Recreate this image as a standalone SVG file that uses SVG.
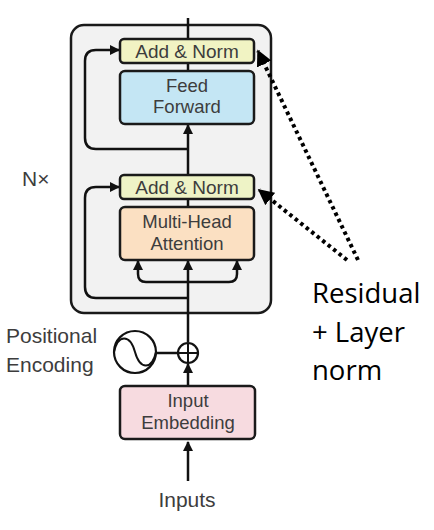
<svg xmlns="http://www.w3.org/2000/svg" width="434" height="530" viewBox="0 0 434 530">
<defs>
<marker id="ah" viewBox="0 0 10 10" refX="9" refY="5" markerWidth="4" markerHeight="4" orient="auto-start-reverse" markerUnits="strokeWidth"><path d="M0,0 L10,5 L0,10 Z" fill="#111"/></marker>
<marker id="ahd" viewBox="0 0 10 10" refX="9" refY="5" markerWidth="4" markerHeight="4" orient="auto" markerUnits="strokeWidth"><path d="M0,0 L10,5 L0,10 Z" fill="#000"/></marker>
<style>
.box{stroke:#1a1a1a;stroke-width:2.5}
.t{font-family:"Liberation Sans",Arial,sans-serif;font-size:18.5px;fill:#3d3d3d;text-anchor:middle}
.tl{font-family:"Liberation Sans",Arial,sans-serif;font-size:21px;fill:#3d3d3d}
.ln{fill:none;stroke:#111;stroke-width:2.5}
.dot{fill:none;stroke:#000;stroke-width:4;stroke-dasharray:3.5 3.5}
.big{font-family:"Open Sans","Liberation Sans",sans-serif;font-size:27.5px;fill:#000}
</style>
</defs>
<rect width="434" height="530" fill="#fff"/>
<g id="encoder-block">
<rect x="71" y="25" width="200" height="288" rx="13" fill="#f2f2f2" class="box"/>
</g>
<g id="connectors">
<line x1="188" y1="18" x2="188" y2="39" class="ln"/>
<line x1="188" y1="63" x2="188" y2="71" class="ln"/>
<line x1="188" y1="175" x2="188" y2="125" class="ln" marker-end="url(#ah)"/>
<path d="M188,149 H96 Q85,149 85,138 V61 Q85,50 96,50 H119" class="ln" marker-end="url(#ah)"/>
<line x1="188" y1="199" x2="188" y2="207" class="ln"/>
<line x1="188" y1="342" x2="188" y2="261" class="ln" marker-end="url(#ah)"/>
<path d="M188,298 H96 Q85,298 85,287 V198 Q85,187 96,187 H119" class="ln" marker-end="url(#ah)"/>
<path d="M138,261 V274 Q138,282 146,282 H229 Q237,282 237,274 V261" class="ln" marker-start="url(#ah)" marker-end="url(#ah)"/>
<line x1="156" y1="353" x2="178" y2="353" class="ln"/>
<line x1="188" y1="386" x2="188" y2="364" class="ln" marker-end="url(#ah)"/>
<line x1="188" y1="481" x2="188" y2="442" class="ln" marker-end="url(#ah)"/>
<line x1="358" y1="260" x2="258" y2="51" class="dot" marker-end="url(#ahd)"/>
<line x1="347" y1="260" x2="259" y2="190" class="dot" marker-end="url(#ahd)"/>
</g>
<g id="add-norm-top">
<rect x="120" y="39" width="134" height="24" rx="4" fill="#f1f3c3" class="box"/>
<text x="187" y="58" class="t" style="font-size:19px">Add &amp; Norm</text>
</g>
<g id="feed-forward">
<rect x="120" y="71" width="134" height="53" rx="5" fill="#c4e6f4" class="box"/>
<text x="187" y="92" class="t">Feed</text>
<text x="187" y="113" class="t">Forward</text>
</g>
<g id="add-norm-bottom">
<rect x="120" y="175" width="134" height="24" rx="4" fill="#eef3c6" class="box"/>
<text x="187" y="194" class="t" style="font-size:19px">Add &amp; Norm</text>
</g>
<g id="multi-head-attention">
<rect x="120" y="207" width="134" height="53" rx="5" fill="#fbe0c2" class="box"/>
<text x="187" y="228" class="t">Multi-Head</text>
<text x="187" y="250" class="t">Attention</text>
</g>
<g id="positional-encoding">
<circle cx="135" cy="352" r="21" fill="#fff" stroke="#111" stroke-width="2.2"/>
<path d="M114,352 C118,334 130,334 135,352 C140,370 152,370 156,352" fill="none" stroke="#111" stroke-width="2"/>
<text x="6" y="343" class="tl">Positional</text>
<text x="6" y="372" class="tl">Encoding</text>
</g>
<g id="add-circle">
<circle cx="188" cy="353" r="10" fill="#fff" stroke="#111" stroke-width="2.2"/>
<path d="M178,353 H198 M188,343 V363" stroke="#111" stroke-width="2" fill="none"/>
</g>
<g id="input-embedding">
<rect x="120" y="386" width="135" height="53" rx="5" fill="#f7dbe0" class="box"/>
<text x="188" y="407" class="t">Input</text>
<text x="188" y="429" class="t">Embedding</text>
</g>
<g id="labels">
<text x="187" y="507" class="tl" style="text-anchor:middle">Inputs</text>
<text x="22" y="186" class="tl">N×</text>
<text x="312" y="303" class="big">Residual</text>
<text x="312" y="342" class="big">+ Layer</text>
<text x="312" y="380" class="big">norm</text>
</g>
</svg>
